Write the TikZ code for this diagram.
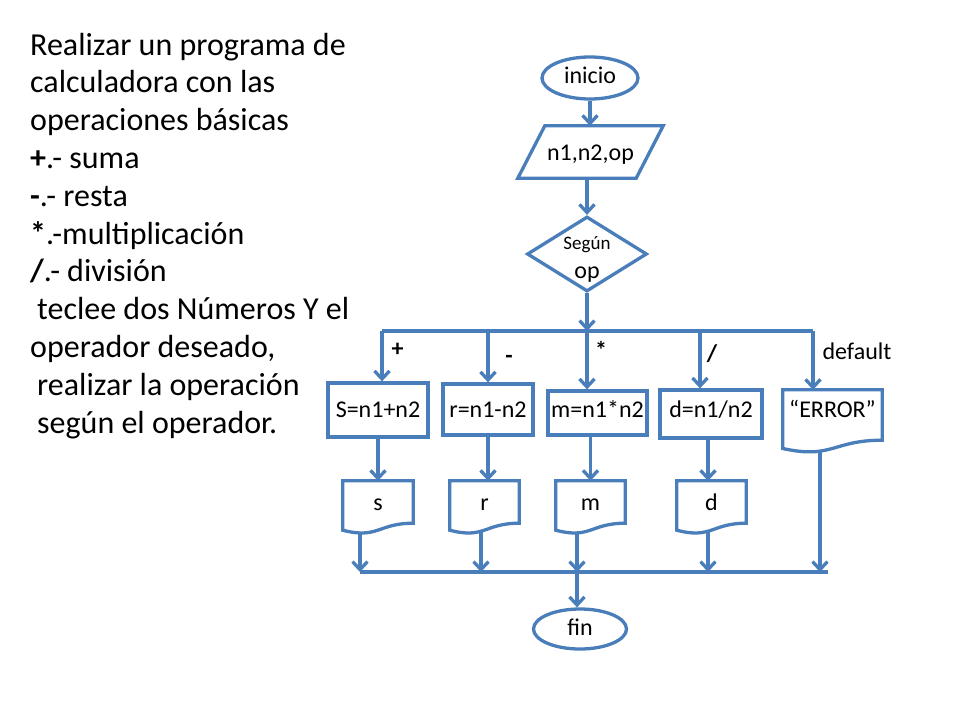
\documentclass[tikz,border=0pt]{standalone}
\usepackage{fontspec}
\setmainfont{Carlito}
\usetikzlibrary{arrows.meta,shapes.geometric,calc}
\definecolor{flow}{RGB}{74,126,187}
\newcommand{\docoutline}[1]{%
  \draw[line] (#1.south east) -- (#1.north east) -- (#1.north west)
    -- ($(#1.north west)!1.165!(#1.south west)$)
    .. controls ($(#1.north)!1.38!(#1.south)$) and (#1.south) .. (#1.south east) -- cycle;}
\begin{document}
\begin{tikzpicture}[x=1pt,y=-1pt,
  line/.style={draw=flow,line width=3.3pt},
  arr/.style={draw=flow,line width=3.3pt,-{Straight Barb[length=8pt,width=15pt]}},
  ft/.style={font=\fontsize{24}{28}\selectfont},
  tb/.style={text height=#1,text depth=0pt},
  proc/.style={line,rectangle,inner sep=0pt,ft},
  docn/.style={rectangle,inner sep=0pt,ft},
  lab/.style={anchor=base,inner sep=0pt,font=\fontsize{24}{28}\selectfont\bfseries},
  lt/.style={anchor=base west,inner sep=0pt,font=\fontsize{32}{38}\selectfont}]
\useasboundingbox (0,0) rectangle (960,720);

% left text
\node[lt] (t1) at (30,55) {Realizar un programa de};
\node[lt] (t2) at (30,92.8) {calculadora con las};
\node[lt] (t3) at (30,130.6) {operaciones básicas};
\node[lt] (t4) at (30,168.4) {\textbf{+}.- suma};
\node[lt] (t5) at (30,206.2) {\textbf{-}.- resta};
\node[lt] (t6) at (30,244) {\textbf{*}.-multiplicación};
\node[lt] (t7) at (30,281.8) {\textbf{/}.- división};
\node[lt] (t8) at (37,319.6) {teclee dos Números Y el};
\node[lt] (t9) at (30,357.4) {operador deseado,};
\node[lt] (t10) at (37,395.2) {realizar la operación};
\node[lt] (t11) at (37,433) {según el operador.};

% top of flowchart
\node[line,ellipse,minimum width=96pt,minimum height=42pt,inner sep=0pt,ft,tb=10pt] (ini) at (590,78) {inicio};
\node[rectangle,minimum width=118pt,minimum height=52pt,inner sep=0pt,ft,tb=16pt] (in) at (590.5,152) {n1,n2,op};
\draw[line] ([xshift=13.5pt]in.north west) -- ([xshift=13.5pt]in.north east)
  -- ([xshift=-13.5pt]in.south east) -- ([xshift=-13.5pt]in.south west) -- cycle;
\node[line,diamond,minimum width=120pt,minimum height=75pt,inner sep=0pt] (dia) at (587,254) {};
\node[anchor=base,inner sep=0pt,font=\fontsize{19}{22}\selectfont] (seg) at (587,249) {Según};
\node[anchor=base,inner sep=0pt,font=\fontsize{24}{28}\selectfont] (opt) at (587,278) {op};

\draw[arr] (ini.south) -- (ini.south |- in.north);
\draw[arr] (in.south -| dia.north) -- (dia.north);

% upper bar
\coordinate (ubL) at (382,331);
\coordinate (ubR) at (813,331);
\draw[line] (ubL) -- (ubR);
\draw[arr] (dia.south) -- (dia.south |- ubL);

% process boxes
\node[proc,tb=14pt,minimum width=100pt,minimum height=54pt] (S) at (378,410) {S=n1+n2};
\node[proc,tb=15pt,minimum width=90pt,minimum height=51pt] (r) at (488,409.5) {r=n1-n2};
\node[proc,tb=8pt,minimum width=99pt,minimum height=44pt] (m) at (597.5,413) {m=n1*n2};
\node[proc,tb=6pt,minimum width=102pt,minimum height=48pt] (d) at (711,414) {d=n1/n2};
\node[docn,tb=4pt,minimum width=99pt,minimum height=50pt] (E) at (832.5,415) {“ERROR”};
\docoutline{E}

% branch arrows
\draw[arr] (ubL) -- (ubL |- S.north);
\draw[arr] (r.north |- ubL) -- (r.north);
\draw[arr] (dia.south |- ubL) -- (dia.south |- m.north);
\draw[arr] ([xshift=-11pt]d.north |- ubL) -- ([xshift=-11pt]d.north);
\draw[arr] (ubR) -- (ubR |- E.north);

% branch labels
\node[lab] (lp) at (397.5,356) {+};
\node[lab] (lm) at (509,363) {-};
\node[lab] (ls) at (601,358) {*};
\node[lab] (ld) at (712,361) {/};
\node[anchor=base,inner sep=0pt,font=\fontsize{24}{28}\selectfont] (ldef) at (857,359) {default};

% output documents
\node[docn,tb=16pt,minimum width=70pt,minimum height=42pt] (ds) at (378,502) {s};
\node[docn,tb=16pt,minimum width=69pt,minimum height=42pt] (dr) at (484.5,502) {r};
\node[docn,tb=16pt,minimum width=69pt,minimum height=42pt] (dm) at (590.5,502) {m};
\node[docn,tb=16pt,minimum width=69pt,minimum height=42pt] (dd) at (711.5,502) {d};
\docoutline{ds}
\docoutline{dr}
\docoutline{dm}
\docoutline{dd}

\draw[arr] (S.south) -- (S.south |- ds.north);
\draw[arr] (r.south) -- (r.south |- dr.north);
\draw[arr] (dm.north |- m.south) -- (dm.north);
\draw[arr] ([xshift=-3pt]d.south) -- ([xshift=-3pt]d.south |- dd.north);

% lower bar
\coordinate (lbL) at (360,572);
\coordinate (lbR) at (828,572);
\draw[line] (lbL) -- (lbR);
\draw[arr] ([xshift=-18pt,yshift=-9.7pt]ds.south) -- ([xshift=-18pt]ds.south |- lbL);
\draw[arr] ([xshift=-3.5pt,yshift=-7.8pt]dr.south) -- ([xshift=-3.5pt]dr.south |- lbL);
\draw[arr] ([xshift=-13.5pt,yshift=-9.5pt]dm.south) -- ([xshift=-13.5pt]dm.south |- lbL);
\draw[arr] ([xshift=-3.5pt,yshift=-7.8pt]dd.south) -- ([xshift=-3.5pt]dd.south |- lbL);
\draw[arr] ([xshift=-12.5pt,yshift=-10.8pt]E.south) -- ([xshift=-12.5pt]E.south |- lbL);

% end
\node[line,ellipse,minimum width=93pt,minimum height=40pt,inner sep=0pt,ft,tb=12pt] (fin) at (580,629) {fin};
\draw[arr] ([xshift=-3pt]fin.north |- lbL) -- ([xshift=-3pt]fin.north);
\end{tikzpicture}
\end{document}
